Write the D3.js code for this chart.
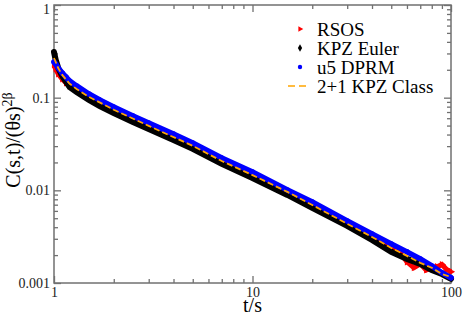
<!DOCTYPE html>
<html>
<head>
  <meta charset="utf-8">
  <style>
    body { margin: 0; background: #fff; }
    svg { display: block; font-family: "Liberation Serif", "Times New Roman", serif; }
    .tick text { font-family: "Liberation Serif", serif; font-size: 14px; fill: #222; }
    .tick line { stroke: #707070; stroke-width: 1.3; }
  </style>
  <title>C(s,t) scaling</title>
</head>
<body>
  <script src="https://cdn.jsdelivr.net/npm/d3@7"></script>
  <script>
    // data (t/s, C(s,t)/(theta s)^2beta)
    var tRsos  = [1, 1.02, 1.05, 1.1, 1.15, 1.2, 1.3, 1.5, 2, 3, 5, 10, 20, 30, 40, 50, 55, 60, 65, 70, 75, 80, 85, 90, 95, 100];
    var cRsos  = [0.225, 0.204, 0.180, 0.159, 0.144, 0.134, 0.121, 0.102, 0.0741, 0.0496, 0.0302, 0.0146, 0.00695, 0.00446, 0.00314, 0.00245, 0.00217, 0.00169, 0.00146, 0.00161, 0.00138, 0.00146, 0.00150, 0.00158, 0.00140, 0.00132];

    var tGrid  = [1, 1.02, 1.05, 1.1, 1.15, 1.2, 1.3, 1.5, 1.7, 2, 2.5, 3, 4, 5, 7, 10, 15, 20, 30, 40, 50, 60, 70, 80, 90, 100];
    var cEuler = [0.311, 0.255, 0.209, 0.171, 0.148, 0.130, 0.115, 0.0944, 0.0813, 0.0684, 0.0547, 0.0460, 0.0350, 0.0280, 0.0193, 0.0136, 0.00892, 0.00646, 0.00413, 0.00292, 0.00217, 0.00182, 0.00161, 0.00138, 0.00125, 0.00111];
    var cDprm  = [0.243, 0.231, 0.209, 0.185, 0.167, 0.151, 0.134, 0.1096, 0.0944, 0.0794, 0.0635, 0.0533, 0.0406, 0.0325, 0.0224, 0.0158, 0.0101, 0.00750, 0.00468, 0.00339, 0.00264, 0.00217, 0.00182, 0.00153, 0.00129, 0.00114];

    var tClass = [1, 1.05, 1.1, 1.2, 1.3, 1.5, 2, 3, 5, 7, 10, 15, 20, 30, 40, 50, 60, 70, 80, 90, 100];
    var cClass = [0.268, 0.209, 0.176, 0.141, 0.124, 0.102, 0.0741, 0.0496, 0.0302, 0.0207, 0.0146, 0.00962, 0.00695, 0.00435, 0.00314, 0.00239, 0.00196, 0.00165, 0.00146, 0.00125, 0.00116];

    var xMajor = [1, 10, 100];
    var yMajor = [0.001, 0.01, 0.1, 1];
    var legendNames = ["RSOS", "KPZ Euler", "u5 DPRM", "2+1 KPZ Class"];

    // layout (plot box in pixels)
    var width = 463, height = 316;
    var boxL = 54, boxR = 451, boxT = 5, boxB = 283;

    var svg = d3.select("body").append("svg")
      .attr("width", width)
      .attr("height", height);

    var x = d3.scaleLog().domain([1, 100]).range([boxL, boxR]);
    var y = d3.scaleLog().domain([0.001, 1]).range([boxB, boxT]);

    function minors(lo, hi) {
      var out = [];
      for (var d = lo; d < hi * 0.99; d *= 10)
        for (var k = 2; k <= 9; k++) out.push(+(d * k).toPrecision(3));
      return out;
    }
    var xMinor = minors(1, 100);
    var yMinor = minors(0.001, 1);

    // axes, ticks pointing inward on all four sides
    function addAxis(axisFn, scale, major, minor, tx, ty, labels) {
      var g = svg.append("g").attr("transform", "translate(" + tx + "," + ty + ")");
      g.call(axisFn(scale).tickValues(minor).tickSize(-4).tickFormat(""));
      var g2 = svg.append("g").attr("transform", "translate(" + tx + "," + ty + ")");
      g2.call(axisFn(scale).tickValues(major).tickSize(-7).tickPadding(4)
        .tickFormat(labels ? function (d) { return String(d); } : ""));
      g.select(".domain").remove();
      g2.select(".domain").remove();
    }
    addAxis(d3.axisBottom, x, xMajor, xMinor, 0, boxB, true);
    addAxis(d3.axisTop, x, xMajor, xMinor, 0, boxT, false);
    addAxis(d3.axisLeft, y, yMajor, yMinor, boxL, 0, true);
    addAxis(d3.axisRight, y, yMajor, yMinor, boxR, 0, false);

    // keep the top "1" label inside the picture
    svg.selectAll(".tick text").filter(function (d) { return d === 1 && this.getAttribute("x") !== null && +this.getAttribute("x") < 0; })
      .attr("dy", "0.6em");

    svg.append("rect")
      .attr("x", boxL).attr("y", boxT)
      .attr("width", boxR - boxL).attr("height", boxB - boxT)
      .attr("fill", "none")
      .attr("stroke", "#707070")
      .attr("stroke-width", 1.5);

    var line = d3.line()
      .x(function (d) { return x(d[0]); })
      .y(function (d) { return y(d[1]); });

    function pairs(ts, cs) { return ts.map(function (t, i) { return [t, cs[i]]; }); }

    var plot = svg.append("g");

    // RSOS: red triangles
    var rs = pairs(tRsos, cRsos);
    plot.append("path").datum(rs).attr("d", line)
      .attr("fill", "none").attr("stroke", "#ff0000").attr("stroke-width", 5);
    plot.selectAll(".rsos").data(rs).enter().append("path")
      .attr("transform", function (d) { return "translate(" + x(d[0]) + "," + y(d[1]) + ") rotate(90)"; })
      .attr("d", d3.symbol().type(d3.symbolTriangle).size(22))
      .attr("fill", "#ff0000");

    // KPZ Euler: black diamonds (dense, so drawn as a thick band)
    var eu = pairs(tGrid, cEuler);
    plot.append("path").datum(eu).attr("d", line)
      .attr("fill", "none").attr("stroke", "#000").attr("stroke-width", 6)
      .attr("stroke-linecap", "round");

    // u5 DPRM: blue circles
    var dp = pairs(tGrid, cDprm);
    plot.append("path").datum(dp).attr("d", line)
      .attr("fill", "none").attr("stroke", "#0000ff").attr("stroke-width", 5.5)
      .attr("stroke-linecap", "round");
    plot.selectAll(".dprm").data(dp).enter().append("circle")
      .attr("cx", function (d) { return x(d[0]); })
      .attr("cy", function (d) { return y(d[1]); })
      .attr("r", 2.7)
      .attr("fill", "#0000ff");

    // 2+1 KPZ Class: orange dashed
    plot.append("path").datum(pairs(tClass, cClass)).attr("d", line)
      .attr("fill", "none").attr("stroke", "#ffa500")
      .attr("stroke-width", 1.8).attr("stroke-dasharray", "6,3");

    // axis titles
    svg.append("text")
      .attr("x", (boxL + boxR) / 2)
      .attr("y", 312)
      .attr("text-anchor", "middle")
      .style("font-size", "20px")
      .text("t/s");

    var yl = svg.append("text")
      .attr("transform", "translate(20,140) rotate(-90)")
      .attr("text-anchor", "middle")
      .style("font-size", "20px");
    yl.append("tspan").text("C(s,t)/(\u03b8s)");
    yl.append("tspan").attr("dy", "-0.55em").style("font-size", "14px").text("2\u03b2");

    // legend
    var lg = svg.append("g");
    var ly = [29, 48, 67, 86];
    lg.append("path")
      .attr("transform", "translate(300," + ly[0] + ") rotate(90)")
      .attr("d", d3.symbol().type(d3.symbolTriangle).size(14))
      .attr("fill", "#ff0000");
    lg.append("path")
      .attr("transform", "translate(300," + ly[1] + ")")
      .attr("d", d3.symbol().type(d3.symbolDiamond).size(16))
      .attr("fill", "#000");
    lg.append("circle").attr("cx", 300).attr("cy", ly[2]).attr("r", 2.2).attr("fill", "#0000ff");
    lg.append("line")
      .attr("x1", 288).attr("x2", 309).attr("y1", ly[3]).attr("y2", ly[3])
      .attr("stroke", "#ffa500").attr("stroke-width", 1.5).attr("stroke-dasharray", "7,4");
    lg.selectAll("text.lab").data(legendNames).enter().append("text")
      .attr("x", 317)
      .attr("y", function (d, i) { return ly[i] + 6.5; })
      .style("font-size", "19px")
      .text(function (d) { return d; });
  </script>
</body>
</html>
